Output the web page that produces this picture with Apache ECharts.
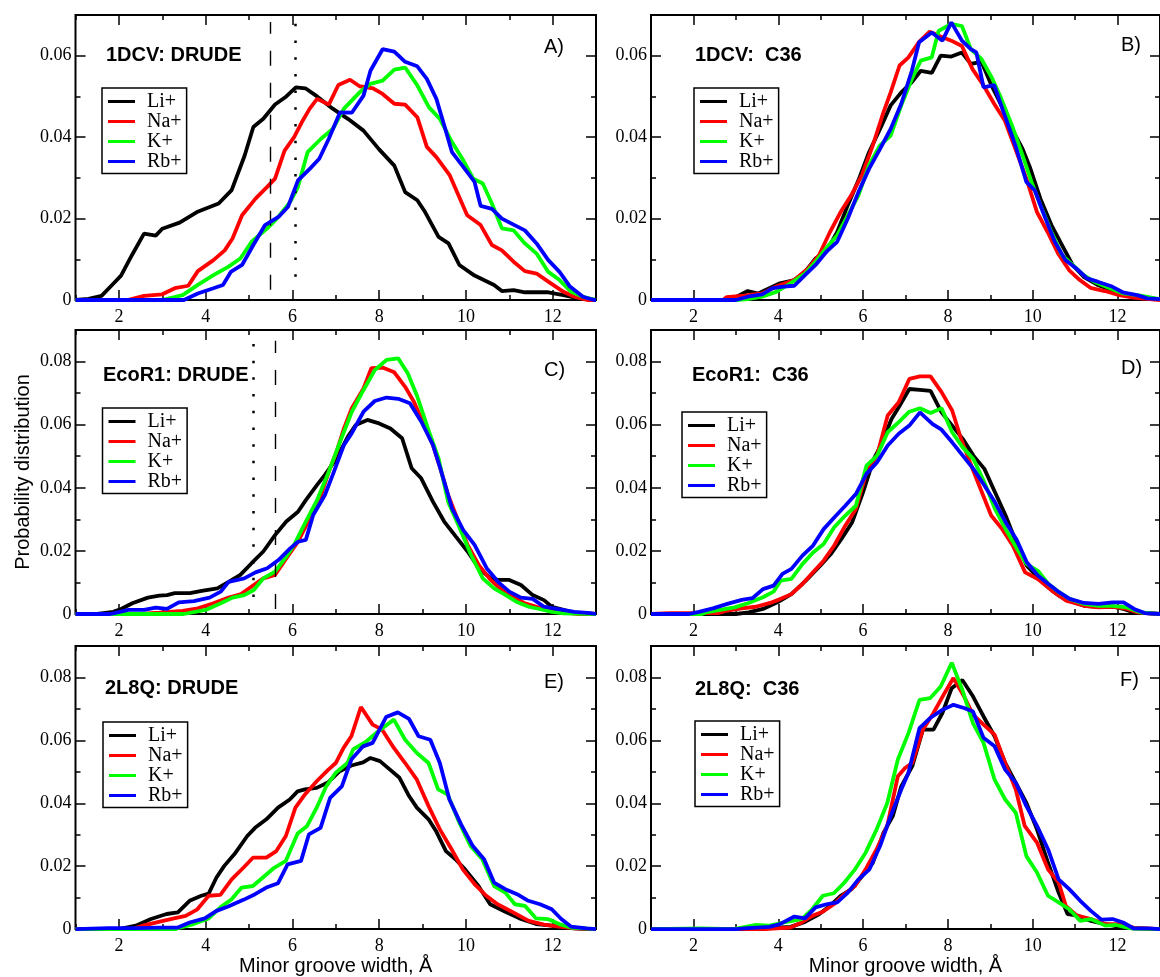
<!DOCTYPE html>
<html>
<head>
<meta charset="utf-8">
<script src="https://cdn.jsdelivr.net/npm/echarts@6/dist/echarts.min.js"></script>
<style>
  html, body { margin: 0; padding: 0; background: #ffffff; }
  #chart { width: 1160px; height: 977px; }
</style>
</head>
<body>
<div id="chart"></div>
<script>
// Minor groove width distributions, six systems, four cations each.
const ions = ['Li+', 'Na+', 'K+', 'Rb+'];
const ionColors = ['#000000', '#ff0000', '#00ff00', '#0000ff'];
const panelTitles = ['1DCV: DRUDE', '1DCV:  C36', 'EcoR1: DRUDE', 'EcoR1:  C36', '2L8Q: DRUDE', '2L8Q:  C36'];
const panelTags = ['A)', 'B)', 'C)', 'D)', 'E)', 'F)'];
const xTickValues = [2, 4, 6, 8, 10, 12];
const yMaxValues = [0.07, 0.07, 0.09, 0.09, 0.09, 0.09];
const xAxisTitle = 'Minor groove width, Å';
const yAxisTitle = 'Probability distribution';

// 1DCV, Drude
const dcvDrudeLi = [[1.0,0],[1.3,0.0003],[1.6,0.001],[1.87,0.004],[2.05,0.006],[2.3,0.011],[2.58,0.0163],[2.85,0.0158],[3.0,0.0175],[3.4,0.019],[3.8,0.0216],[4.3,0.0237],[4.6,0.027],[4.9,0.0355],[5.1,0.0425],[5.33,0.0445],[5.6,0.048],[5.86,0.050],[6.08,0.0522],[6.3,0.052],[6.57,0.050],[6.93,0.047],[7.28,0.0445],[7.64,0.0416],[8.0,0.037],[8.35,0.033],[8.6,0.0265],[8.88,0.0245],[9.06,0.0216],[9.37,0.0155],[9.6,0.0139],[9.85,0.0086],[10.2,0.006],[10.65,0.0037],[10.83,0.0022],[11.1,0.0024],[11.36,0.0019],[11.9,0.0019],[12.25,0.0012],[12.6,0.0004],[13.0,0]];
const dcvDrudeNa = [[1.0,0],[2.2,0],[2.58,0.001],[3.0,0.0014],[3.29,0.0029],[3.6,0.0035],[3.82,0.0071],[4.18,0.0098],[4.44,0.0122],[4.62,0.0151],[4.84,0.0208],[5.15,0.0249],[5.42,0.0278],[5.6,0.0298],[5.82,0.0367],[6.04,0.040],[6.22,0.0437],[6.4,0.047],[6.57,0.0494],[6.84,0.048],[7.06,0.0528],[7.33,0.0541],[7.55,0.0525],[7.86,0.052],[8.08,0.0506],[8.35,0.0482],[8.6,0.048],[8.88,0.0449],[9.1,0.0376],[9.32,0.0351],[9.63,0.0306],[10.03,0.0208],[10.34,0.0184],[10.6,0.0135],[10.83,0.0122],[11.1,0.0094],[11.36,0.0071],[11.63,0.0065],[11.9,0.0045],[12.25,0.002],[12.5,0.0008],[12.8,0],[13.0,0]];
const dcvDrudeK = [[1.0,0],[3.0,0],[3.47,0.0012],[3.82,0.0037],[4.18,0.0061],[4.53,0.0082],[4.8,0.0102],[5.06,0.0143],[5.42,0.0176],[5.64,0.020],[5.95,0.0241],[6.13,0.0278],[6.35,0.0363],[6.66,0.0396],[6.93,0.042],[7.19,0.047],[7.55,0.051],[7.8,0.0531],[8.08,0.0539],[8.35,0.0566],[8.6,0.0571],[8.88,0.0527],[9.15,0.0473],[9.4,0.0445],[9.68,0.0388],[9.94,0.0343],[10.17,0.0298],[10.39,0.0286],[10.6,0.0237],[10.83,0.0176],[11.1,0.0171],[11.36,0.0139],[11.63,0.0114],[11.9,0.0069],[12.16,0.0049],[12.43,0.002],[12.7,0.0008],[13.0,0]];
const dcvDrudeRb = [[1.0,0],[3.5,0],[3.82,0.0016],[4.18,0.0029],[4.4,0.0037],[4.58,0.0069],[4.84,0.0086],[5.1,0.0135],[5.37,0.0184],[5.68,0.0204],[5.9,0.0229],[6.13,0.0294],[6.4,0.0322],[6.62,0.0347],[6.84,0.0396],[7.1,0.0461],[7.37,0.046],[7.64,0.0502],[7.8,0.0563],[8.08,0.0616],[8.35,0.061],[8.6,0.0585],[8.88,0.0574],[9.1,0.0543],[9.32,0.0494],[9.5,0.0429],[9.68,0.0363],[9.94,0.0327],[10.2,0.029],[10.34,0.0231],[10.6,0.0224],[10.83,0.02],[11.1,0.0185],[11.36,0.0171],[11.63,0.0139],[11.9,0.0098],[12.16,0.0069],[12.4,0.0033],[12.7,0.0008],[12.96,0],[13.0,0]];

// 1DCV, C36
const dcvC36Li = [[1.0,0],[2.8,0],[2.94,0.0004],[3.28,0.0022],[3.53,0.0016],[3.79,0.0029],[4.04,0.0041],[4.38,0.0049],[4.63,0.0069],[4.88,0.0102],[5.13,0.0118],[5.39,0.0167],[5.64,0.0233],[5.89,0.0294],[6.14,0.0363],[6.4,0.042],[6.65,0.0478],[6.9,0.051],[7.15,0.0535],[7.36,0.0563],[7.62,0.0558],[7.83,0.06],[8.08,0.0598],[8.33,0.0608],[8.54,0.058],[8.79,0.0585],[9.05,0.0522],[9.26,0.0478],[9.51,0.042],[9.76,0.0371],[9.93,0.0327],[10.18,0.0249],[10.44,0.0184],[10.69,0.0135],[10.94,0.0086],[11.2,0.0057],[11.53,0.0037],[11.87,0.0024],[12.2,0.0014],[12.54,0.0006],[13.0,0.0002]];
const dcvC36Na = [[1.0,0],[2.7,0],[2.78,0.0007],[3.2,0.0011],[3.62,0.0016],[3.95,0.0033],[4.38,0.0049],[4.71,0.0078],[4.96,0.011],[5.22,0.0167],[5.47,0.0216],[5.72,0.0257],[5.97,0.0306],[6.23,0.038],[6.48,0.0461],[6.65,0.051],[6.86,0.0576],[7.07,0.0596],[7.32,0.0634],[7.57,0.0659],[7.83,0.0647],[8.08,0.0637],[8.33,0.0624],[8.58,0.0567],[8.84,0.0527],[9.09,0.0482],[9.34,0.0441],[9.59,0.0371],[9.85,0.0298],[10.1,0.0216],[10.35,0.0167],[10.6,0.0114],[10.86,0.0073],[11.11,0.0049],[11.36,0.003],[11.7,0.0022],[12.04,0.0012],[12.38,0.0006],[13.0,0]];
const dcvC36K = [[1.0,0],[3.0,0],[3.28,0.0002],[3.62,0.0008],[3.95,0.002],[4.29,0.0041],[4.63,0.0065],[4.88,0.0094],[5.13,0.0127],[5.39,0.0159],[5.64,0.0208],[5.89,0.0257],[6.14,0.0331],[6.4,0.038],[6.65,0.0404],[6.9,0.0478],[7.15,0.0543],[7.36,0.0588],[7.62,0.0596],[7.78,0.0661],[8.08,0.0678],[8.33,0.0673],[8.54,0.0616],[8.79,0.0592],[9.05,0.0543],[9.26,0.0494],[9.51,0.0429],[9.76,0.0355],[9.97,0.029],[10.18,0.0233],[10.44,0.0167],[10.69,0.011],[10.94,0.0086],[11.2,0.0061],[11.45,0.0045],[11.79,0.003],[12.13,0.0016],[12.47,0.0012],[13.0,0.0002]];
const dcvC36Rb = [[1.0,0],[3.0,0],[3.28,0.0008],[3.62,0.0014],[3.87,0.0029],[4.12,0.0033],[4.38,0.0035],[4.63,0.0061],[4.88,0.0086],[5.13,0.0118],[5.39,0.0143],[5.64,0.02],[5.89,0.0265],[6.14,0.0322],[6.4,0.0371],[6.65,0.042],[6.9,0.0482],[7.15,0.0563],[7.32,0.0633],[7.62,0.0657],[7.87,0.0637],[8.08,0.0682],[8.33,0.0637],[8.54,0.0616],[8.67,0.0608],[8.84,0.0522],[9.09,0.0528],[9.34,0.0453],[9.59,0.038],[9.85,0.029],[10.05,0.0269],[10.27,0.0208],[10.52,0.0143],[10.77,0.0098],[11.02,0.0078],[11.28,0.0053],[11.53,0.0045],[11.87,0.0033],[12.12,0.0019],[12.46,0.0012],[12.7,0.0004],[13.0,0.0002]];

// EcoR1, Drude
const ecoDrudeLi = [[1.0,0],[1.5,0],[1.87,0.0007],[2.05,0.0016],[2.31,0.0034],[2.67,0.0052],[2.93,0.0058],[3.11,0.006],[3.29,0.0066],[3.64,0.0066],[3.91,0.0073],[4.27,0.0081],[4.53,0.0102],[4.8,0.0124],[5.06,0.0161],[5.33,0.0198],[5.6,0.025],[5.86,0.0293],[6.13,0.0324],[6.31,0.0361],[6.57,0.0409],[6.75,0.0441],[7.02,0.0493],[7.28,0.0562],[7.46,0.0599],[7.73,0.0615],[8.0,0.0604],[8.26,0.0588],[8.53,0.0557],[8.75,0.0462],[8.97,0.043],[9.24,0.0356],[9.5,0.0293],[9.77,0.0245],[10.04,0.0198],[10.3,0.0145],[10.57,0.0113],[10.74,0.0108],[11.0,0.0108],[11.27,0.0092],[11.54,0.006],[11.8,0.0044],[11.98,0.0023],[12.25,0.0013],[12.5,0.0004],[13.0,0]];
const ecoDrudeNa = [[1.0,0],[2.5,0],[2.93,0.0004],[3.47,0.001],[3.82,0.0018],[4.18,0.0034],[4.53,0.0052],[4.8,0.0062],[5.06,0.0087],[5.33,0.0113],[5.6,0.0124],[5.86,0.0176],[6.13,0.0229],[6.4,0.0303],[6.66,0.0377],[6.84,0.0451],[7.02,0.0515],[7.19,0.0588],[7.37,0.0652],[7.64,0.0715],[7.82,0.0779],[8.08,0.0781],[8.35,0.0766],[8.6,0.072],[8.8,0.0673],[8.97,0.062],[9.24,0.0536],[9.41,0.0462],[9.59,0.0377],[9.77,0.0314],[10.04,0.0219],[10.3,0.0155],[10.57,0.0108],[10.83,0.0076],[11.1,0.0055],[11.36,0.0034],[11.63,0.0023],[11.9,0.0013],[12.25,0.0005],[12.6,0],[13.0,0]];
const ecoDrudeK = [[1.0,0],[3.5,0],[4.0,0.0013],[4.35,0.0034],[4.62,0.0052],[4.89,0.006],[5.11,0.0076],[5.33,0.0113],[5.6,0.0134],[5.86,0.0182],[6.04,0.0219],[6.31,0.0293],[6.57,0.0361],[6.84,0.0451],[7.1,0.0546],[7.37,0.0641],[7.64,0.071],[7.9,0.0773],[8.17,0.0805],[8.44,0.081],[8.66,0.0763],[8.88,0.0689],[9.15,0.0578],[9.37,0.0493],[9.59,0.0356],[9.86,0.0272],[10.12,0.0187],[10.39,0.0113],[10.65,0.0081],[10.92,0.006],[11.19,0.0037],[11.45,0.0023],[11.72,0.0015],[11.98,0.0007],[12.25,0.0002],[13.0,0]];
const ecoDrudeRb = [[1.0,0],[1.8,0],[1.87,0.0002],[2.22,0.0013],[2.58,0.0013],[2.85,0.002],[3.11,0.0016],[3.38,0.0037],[3.73,0.0041],[4.09,0.0052],[4.35,0.0071],[4.53,0.0102],[4.89,0.0113],[5.15,0.0132],[5.42,0.0145],[5.68,0.0171],[5.95,0.0208],[6.13,0.0229],[6.31,0.0235],[6.48,0.0314],[6.75,0.0377],[6.93,0.0441],[7.19,0.0536],[7.37,0.0573],[7.64,0.0641],[7.9,0.0675],[8.17,0.0686],[8.44,0.0682],[8.71,0.0668],[8.97,0.061],[9.24,0.0536],[9.41,0.0462],[9.68,0.0335],[9.94,0.0266],[10.2,0.0219],[10.48,0.0145],[10.74,0.0102],[11.0,0.0071],[11.27,0.0052],[11.54,0.0048],[11.8,0.0023],[12.16,0.0015],[12.5,0.0007],[12.87,0.0003],[13.0,0]];

// EcoR1, C36
const ecoC36Li = [[1.0,0],[3.0,0],[3.3,0.0005],[3.64,0.0016],[3.98,0.0037],[4.31,0.0063],[4.65,0.0106],[4.99,0.0153],[5.24,0.019],[5.49,0.0238],[5.74,0.029],[6.0,0.0386],[6.25,0.0491],[6.42,0.0534],[6.67,0.0618],[6.84,0.0655],[7.09,0.0713],[7.34,0.071],[7.59,0.0707],[7.85,0.0639],[8.1,0.0597],[8.35,0.0555],[8.6,0.0502],[8.86,0.046],[9.11,0.0386],[9.36,0.0312],[9.61,0.0227],[9.86,0.0153],[10.12,0.0116],[10.37,0.0085],[10.62,0.0058],[10.87,0.0042],[11.21,0.0026],[11.55,0.0023],[11.88,0.0023],[12.14,0.0016],[12.39,0.0005],[13.0,0]];
const ecoC36Na = [[1.0,0],[1.45,0.0003],[2.6,0.0003],[2.8,0.0011],[3.14,0.0018],[3.47,0.0023],[3.81,0.0035],[4.06,0.0048],[4.31,0.0063],[4.57,0.0095],[4.82,0.0132],[5.07,0.0169],[5.32,0.0217],[5.58,0.028],[5.83,0.0333],[6.08,0.0449],[6.33,0.0502],[6.58,0.0629],[6.84,0.0671],[7.09,0.0745],[7.34,0.0753],[7.59,0.0753],[7.85,0.0703],[8.1,0.0645],[8.31,0.0555],[8.52,0.0481],[8.77,0.0396],[9.02,0.0312],[9.28,0.0269],[9.53,0.0217],[9.82,0.0132],[10.12,0.0111],[10.45,0.0074],[10.79,0.0042],[11.21,0.0026],[11.55,0.0021],[11.88,0.0023],[12.22,0.0016],[12.47,0.0005],[13.0,0]];
const ecoC36K = [[1.0,0],[2.2,0],[2.3,0.0005],[2.63,0.0013],[2.97,0.0021],[3.3,0.0035],[3.64,0.0053],[3.89,0.0071],[4.06,0.0106],[4.31,0.0111],[4.57,0.0158],[4.82,0.0195],[5.07,0.0222],[5.32,0.0275],[5.58,0.0312],[5.83,0.0343],[6.08,0.047],[6.33,0.0502],[6.58,0.0576],[6.84,0.0608],[7.09,0.0641],[7.34,0.0652],[7.59,0.0637],[7.85,0.0652],[8.1,0.0576],[8.35,0.0528],[8.6,0.0491],[8.86,0.0417],[9.11,0.0333],[9.36,0.0269],[9.61,0.0211],[9.86,0.0158],[10.12,0.0137],[10.37,0.0095],[10.62,0.0069],[10.87,0.0048],[11.21,0.0032],[11.55,0.0026],[11.88,0.0026],[12.22,0.0021],[12.55,0.0005],[13.0,0]];
const ecoC36Rb = [[1.0,0],[1.9,0],[2.13,0.0007],[2.46,0.0018],[2.8,0.0032],[3.14,0.0045],[3.39,0.005],[3.64,0.0079],[3.89,0.009],[4.1,0.0127],[4.31,0.0143],[4.57,0.0185],[4.82,0.0217],[5.07,0.0269],[5.32,0.0306],[5.58,0.0343],[5.83,0.038],[6.08,0.0444],[6.33,0.0481],[6.58,0.0534],[6.84,0.0571],[7.09,0.0597],[7.34,0.0639],[7.64,0.0602],[7.85,0.0584],[8.1,0.0544],[8.35,0.0502],[8.6,0.046],[8.86,0.0407],[9.11,0.0354],[9.36,0.0291],[9.61,0.0238],[9.86,0.0164],[10.12,0.0122],[10.37,0.0095],[10.62,0.0069],[10.87,0.0048],[11.21,0.0035],[11.55,0.0032],[11.88,0.0037],[12.14,0.0037],[12.39,0.0016],[12.64,0.0003],[13.0,0]];

// 2L8Q, Drude
const l8qDrudeLi = [[1.0,0],[2.0,0],[2.03,0.0003],[2.39,0.0011],[2.74,0.0032],[3.1,0.0048],[3.36,0.0053],[3.63,0.009],[3.9,0.0106],[4.07,0.0113],[4.25,0.0164],[4.43,0.0201],[4.69,0.0243],[4.96,0.0296],[5.14,0.0322],[5.4,0.0349],[5.67,0.0386],[5.94,0.0412],[6.12,0.0438],[6.29,0.0444],[6.56,0.0449],[6.83,0.0467],[7.09,0.0502],[7.36,0.052],[7.63,0.053],[7.8,0.0544],[8.02,0.0534],[8.25,0.0507],[8.47,0.0481],[8.69,0.0423],[8.87,0.0386],[9.14,0.0349],[9.31,0.0312],[9.54,0.0248],[9.76,0.0222],[9.98,0.019],[10.29,0.0137],[10.56,0.0079],[10.91,0.0055],[11.27,0.0032],[11.62,0.0016],[11.98,0.0011],[12.24,0.0005],[12.69,0.0001],[13.0,0]];
const l8qDrudeNa = [[1.0,0],[2.3,0],[2.56,0.0011],[2.92,0.0023],[3.27,0.0034],[3.54,0.0042],[3.81,0.0063],[4.07,0.0106],[4.34,0.0109],[4.6,0.0158],[4.87,0.0195],[5.09,0.0227],[5.4,0.0227],[5.63,0.0248],[5.85,0.0296],[6.07,0.0386],[6.29,0.0428],[6.56,0.047],[6.83,0.0507],[7.0,0.0528],[7.18,0.0576],[7.36,0.0613],[7.58,0.0706],[7.85,0.065],[8.07,0.0634],[8.34,0.0576],[8.6,0.0528],[8.87,0.0475],[9.14,0.0391],[9.4,0.0317],[9.67,0.0254],[9.93,0.019],[10.2,0.0143],[10.47,0.0106],[10.73,0.0079],[11.09,0.0053],[11.45,0.0026],[11.8,0.0014],[12.15,0.0008],[12.51,0.0002],[13.0,0]];
const l8qDrudeK = [[1.0,0],[3.3,0],[3.36,0.0003],[3.72,0.0016],[4.07,0.0034],[4.34,0.0069],[4.6,0.0095],[4.83,0.0132],[5.09,0.0137],[5.32,0.0164],[5.58,0.0195],[5.85,0.0217],[6.12,0.0304],[6.34,0.0328],[6.56,0.0386],[6.78,0.0454],[7.0,0.0497],[7.27,0.0528],[7.4,0.0571],[7.71,0.0597],[7.98,0.0629],[8.34,0.0666],[8.6,0.0602],[8.87,0.056],[9.14,0.0528],[9.36,0.0444],[9.58,0.0428],[9.85,0.0338],[10.11,0.0264],[10.38,0.0222],[10.65,0.0137],[10.91,0.0116],[11.13,0.0079],[11.36,0.0074],[11.62,0.0034],[11.89,0.0032],[12.15,0.0016],[12.42,0.0005],[13.0,0]];
const l8qDrudeRb = [[1.0,0],[1.76,0.0003],[2.39,0.0003],[2.92,0.0005],[3.36,0.0005],[3.63,0.0021],[3.98,0.0034],[4.25,0.0058],[4.52,0.0072],[4.87,0.0093],[5.14,0.0111],[5.4,0.0132],[5.67,0.0146],[5.89,0.0206],[6.2,0.0217],[6.38,0.0301],[6.65,0.0322],[6.87,0.0417],[7.14,0.0454],[7.36,0.0539],[7.63,0.0581],[7.85,0.0592],[8.16,0.0674],[8.43,0.0689],[8.69,0.0668],[8.91,0.0613],[9.18,0.0602],[9.4,0.0528],[9.62,0.0412],[9.89,0.0333],[10.16,0.0264],[10.42,0.0222],[10.65,0.0148],[10.91,0.0127],[11.18,0.0111],[11.44,0.009],[11.71,0.0079],[11.98,0.0063],[12.2,0.0032],[12.42,0.0008],[12.78,0.0002],[13.0,0]];

// 2L8Q, C36
const l8qC36Li = [[1.0,0],[3.0,0],[3.45,0.0002],[3.96,0.0005],[4.29,0.0007],[4.63,0.0023],[4.97,0.0048],[5.22,0.0074],[5.47,0.0106],[5.73,0.0127],[5.98,0.0169],[6.23,0.0211],[6.48,0.0306],[6.7,0.0359],[6.9,0.0454],[7.16,0.0518],[7.41,0.0634],[7.66,0.0634],[7.87,0.0687],[8.09,0.0766],[8.34,0.0792],[8.59,0.074],[8.84,0.0676],[9.1,0.0613],[9.35,0.0528],[9.6,0.0465],[9.85,0.0401],[10.1,0.0317],[10.36,0.0211],[10.61,0.0116],[10.82,0.0048],[11.03,0.0044],[11.37,0.0026],[11.71,0.0016],[12.05,0.0007],[12.38,0.0002],[13.0,0]];
const l8qC36Na = [[1.0,0],[3.7,0],[3.96,0.0002],[4.29,0.0005],[4.55,0.0021],[4.8,0.0042],[5.05,0.0055],[5.31,0.0079],[5.56,0.0111],[5.81,0.0137],[6.06,0.019],[6.32,0.0254],[6.57,0.0328],[6.82,0.0486],[6.99,0.0512],[7.16,0.0528],[7.41,0.0634],[7.66,0.0687],[7.92,0.075],[8.13,0.0798],[8.38,0.074],[8.59,0.0682],[8.84,0.065],[9.1,0.0618],[9.35,0.0528],[9.6,0.0444],[9.81,0.0328],[10.1,0.0275],[10.36,0.019],[10.61,0.0148],[10.78,0.0074],[11.03,0.0044],[11.37,0.0032],[11.71,0.0016],[12.05,0.0016],[12.38,0.0005],[13.0,0]];
const l8qC36K = [[1.0,0],[2.19,0.0002],[2.95,0],[3.45,0.0013],[3.79,0.0011],[4.13,0.0021],[4.55,0.0032],[4.8,0.0063],[5.05,0.0106],[5.31,0.0114],[5.56,0.0148],[5.81,0.019],[6.06,0.0243],[6.32,0.0317],[6.57,0.0401],[6.82,0.0539],[7.07,0.0623],[7.33,0.0729],[7.58,0.0734],[7.83,0.0771],[8.09,0.0847],[8.34,0.0761],[8.59,0.0655],[8.84,0.0592],[9.1,0.0475],[9.35,0.0412],[9.6,0.037],[9.85,0.0232],[10.1,0.018],[10.36,0.0106],[10.61,0.0085],[10.86,0.0063],[11.12,0.0026],[11.37,0.0032],[11.71,0.0011],[11.96,0.0013],[12.3,0.0002],[13.0,0]];
const l8qC36Rb = [[1.0,0],[3.0,0],[3.28,0.0003],[3.79,0.0007],[4.04,0.0016],[4.38,0.004],[4.63,0.0034],[4.88,0.0069],[5.14,0.0079],[5.39,0.0085],[5.64,0.0116],[5.89,0.0158],[6.15,0.019],[6.4,0.0264],[6.65,0.0359],[6.9,0.0444],[7.07,0.0497],[7.33,0.0639],[7.58,0.0671],[7.87,0.0697],[8.13,0.0713],[8.38,0.0703],[8.59,0.0692],[8.84,0.0608],[9.1,0.0581],[9.35,0.0507],[9.6,0.0465],[9.85,0.0391],[10.1,0.0328],[10.36,0.0254],[10.61,0.0158],[10.86,0.0127],[11.12,0.009],[11.37,0.0058],[11.62,0.003],[11.88,0.0032],[12.13,0.0021],[12.38,0.0002],[12.72,0.0002],[13.0,0]];

// Reference widths marked in the Drude panels: [x, yFrom, yTo]
const dcvDashed = [5.48, 0.0025, 0.0683];
const dcvDotted = [6.06, 0.0057, 0.068];
const ecoDotted = [5.10, 0.0054, 0.0856];
const ecoDashed = [5.61, 0.0016, 0.0866];

const panelSeries = [
  [dcvDrudeLi, dcvDrudeNa, dcvDrudeK, dcvDrudeRb],
  [dcvC36Li, dcvC36Na, dcvC36K, dcvC36Rb],
  [ecoDrudeLi, ecoDrudeNa, ecoDrudeK, ecoDrudeRb],
  [ecoC36Li, ecoC36Na, ecoC36K, ecoC36Rb],
  [l8qDrudeLi, l8qDrudeNa, l8qDrudeK, l8qDrudeRb],
  [l8qC36Li, l8qC36Na, l8qC36K, l8qC36Rb]
];

const SERIF = 'Liberation Serif';
const SANS = 'Liberation Sans';

// panel frames in pixels
const colLeft = [75.5, 651];
const colWidth = [520.5, 517];
const rowTop = [15, 330, 646];
const rowHeight = [285, 284, 284];

const titlePos = [[106, 45], [695, 45], [103, 365], [692, 365], [105, 678], [695, 679]];
const tagPos = [[544, 37], [1121, 35], [544, 360], [1121, 358], [544, 672], [1120, 670]];
const legendPos = [[102, 88], [694, 88], [102.5, 408], [682, 412], [103, 722], [695, 721]];

const grids = [], xAxes = [], yAxes = [], series = [], titles = [], legends = [];

const tickLine = { color: '#000', width: 1.5 };

function xAxisDef(g, pos, major) {
  const a = {
    type: 'value', gridIndex: g, position: pos, min: 1, max: 13,
    axisLine: { show: false, onZero: false },
    splitLine: { show: false },
    axisTick: { show: true, inside: true, length: major ? 10 : 5, lineStyle: tickLine },
    axisLabel: { show: false }
  };
  if (major) {
    a.axisTick.customValues = xTickValues;
    if (pos === 'bottom') {
      a.axisLabel = {
        show: true, customValues: xTickValues, margin: 8,
        fontFamily: SERIF, fontSize: 18, color: '#000'
      };
    }
  } else {
    a.interval = 1;
  }
  return a;
}

function yAxisDef(g, pos, major, ymax) {
  const a = {
    type: 'value', gridIndex: g, position: pos, min: 0, max: ymax,
    interval: major ? 0.02 : 0.01,
    axisLine: { show: false, onZero: false },
    splitLine: { show: false },
    axisTick: { show: true, inside: true, length: major ? 10 : 5, lineStyle: tickLine },
    axisLabel: { show: false }
  };
  if (major && pos === 'left') {
    a.axisLabel = {
      show: true, margin: 4, fontFamily: SERIF, fontSize: 18, color: '#000',
      formatter: function (v) {
        const k = v / 0.02;
        if (Math.abs(k - Math.round(k)) > 1e-6) return '';
        return v === 0 ? '0' : v.toFixed(2);
      }
    };
  }
  return a;
}

for (let p = 0; p < 6; p++) {
  const col = p % 2, row = Math.floor(p / 2);
  grids.push({
    left: colLeft[col], top: rowTop[row], width: colWidth[col], height: rowHeight[row],
    show: true, borderColor: '#000', borderWidth: 2, backgroundColor: 'transparent',
    containLabel: false
  });

  const xb = xAxisDef(p, 'bottom', true);
  if (row === 2) {
    xb.name = xAxisTitle;
    xb.nameLocation = 'middle';
    xb.nameGap = 26;
    xb.nameTextStyle = { fontFamily: SANS, fontSize: 20, color: '#000' };
  }
  xAxes.push(xb, xAxisDef(p, 'bottom', false), xAxisDef(p, 'top', true), xAxisDef(p, 'top', false));

  const yl = yAxisDef(p, 'left', true, yMaxValues[p]);
  if (p === 2) {
    yl.name = yAxisTitle;
    yl.nameLocation = 'middle';
    yl.nameGap = 42;
    yl.nameTextStyle = { fontFamily: SANS, fontSize: 20, color: '#000' };
  }
  yAxes.push(yl, yAxisDef(p, 'left', false, yMaxValues[p]),
             yAxisDef(p, 'right', true, yMaxValues[p]), yAxisDef(p, 'right', false, yMaxValues[p]));

  for (let j = 0; j < 4; j++) {
    series.push({
      type: 'line', name: ions[j],
      xAxisIndex: 4 * p, yAxisIndex: 4 * p,
      data: panelSeries[p][j],
      showSymbol: false, symbol: 'none', smooth: false,
      lineStyle: { width: 3.8, color: ionColors[j] },
      itemStyle: { color: ionColors[j] },
      z: 2 + j
    });
  }

  titles.push({
    text: panelTitles[p], left: titlePos[p][0], top: titlePos[p][1], padding: 0,
    textStyle: { fontFamily: SANS, fontWeight: 'bold', fontSize: 20, lineHeight: 20, color: '#000' }
  });
  titles.push({
    text: panelTags[p], left: tagPos[p][0], top: tagPos[p][1], padding: 0,
    textStyle: { fontFamily: SANS, fontWeight: 'normal', fontSize: 20, lineHeight: 20, color: '#000' }
  });

  legends.push({
    data: ions, orient: 'vertical', left: legendPos[p][0], top: legendPos[p][1],
    icon: 'rect', itemWidth: 27, itemHeight: 3, itemGap: 0,
    padding: [3.5, 5, 2, 6],
    borderColor: '#000', borderWidth: 1.5, backgroundColor: '#fff',
    selectedMode: false,
    textStyle: { fontFamily: SERIF, fontSize: 20, lineHeight: 20, color: '#000', padding: [0, 0, 0, 7] }
  });
}

// dashed and dotted reference widths in the Drude panels
const dashStyle = { type: [15, 17], width: 1.4, color: '#000' };
const dotStyle = { type: [2.5, 14.2], width: 2.5, color: '#000' };
function refLine(v, style) {
  return [{ coord: [v[0], v[1]], lineStyle: style }, { coord: [v[0], v[2]] }];
}
series[0].markLine = {
  silent: true, symbol: 'none', label: { show: false }, animation: false,
  data: [refLine(dcvDashed, dashStyle), refLine(dcvDotted, dotStyle)]
};
series[8].markLine = {
  silent: true, symbol: 'none', label: { show: false }, animation: false,
  data: [refLine(ecoDotted, dotStyle), refLine(ecoDashed, dashStyle)]
};

const chart = echarts.init(document.getElementById('chart'), null, { renderer: 'canvas' });
chart.setOption({
  backgroundColor: '#fff',
  animation: false,
  title: titles,
  legend: legends,
  grid: grids,
  xAxis: xAxes,
  yAxis: yAxes,
  series: series
});
</script>
</body>
</html>
